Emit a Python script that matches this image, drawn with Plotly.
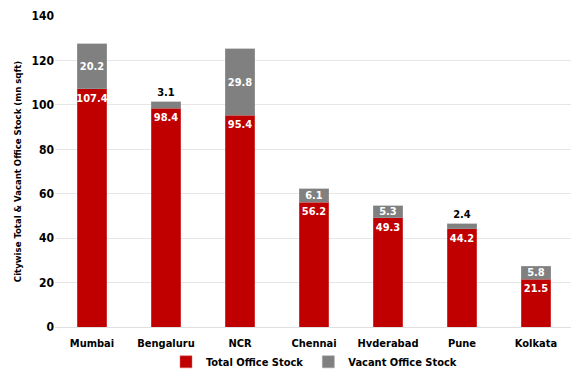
import plotly.graph_objects as go

cities = ["Mumbai", "Bengaluru", "NCR", "Chennai", "Hyderabad", "Pune", "Kolkata"]
total_stock = [107.4, 98.4, 95.4, 56.2, 49.3, 44.2, 21.5]
vacant_stock = [20.2, 3.1, 29.8, 6.1, 5.3, 2.4, 5.8]
y_ticks = [0, 20, 40, 60, 80, 100, 120, 140]

FONT = "DejaVu Sans Condensed, Liberation Sans Narrow, Arial Narrow, Liberation Sans, sans-serif"

vac_pos = ["outside" if v < 4 else "inside" for v in vacant_stock]
vac_col = ["#000000" if v < 4 else "#FFFFFF" for v in vacant_stock]

fig = go.Figure()
fig.add_trace(go.Bar(
    x=cities, y=total_stock, name="Total Office Stock",
    marker=dict(color="#C00000", line=dict(color="#E06060", width=0.5)),
    text=[f"{v:.1f}" for v in total_stock], textposition="inside",
    insidetextanchor="end", constraintext="none", textangle=0,
    textfont=dict(color="white", size=11, family=FONT, weight="bold"),
))
fig.add_trace(go.Bar(
    x=cities, y=vacant_stock, name="Vacant Office Stock",
    marker=dict(color="#808080", line=dict(color="#A0A0A0", width=0.5)),
    text=[f"{v:.1f}" for v in vacant_stock], textposition=vac_pos,
    insidetextanchor="middle", constraintext="none", cliponaxis=False, textangle=0,
    textfont=dict(color=vac_col, size=11, family=FONT, weight="bold"),
))

fig.update_layout(
    barmode="stack", bargap=0.6,
    width=579, height=378,
    margin=dict(l=47, r=14, t=8, b=59, autoexpand=False),
    paper_bgcolor="white", plot_bgcolor="white",
    font=dict(family=FONT, size=11, color="#000000", weight="bold"),
    showlegend=True,
    legend=dict(orientation="h", x=0.5, xanchor="center", y=-0.112, yanchor="middle",
                font=dict(size=11, family=FONT, weight="bold"), itemwidth=30,
                traceorder="normal"),
)
fig.update_yaxes(
    range=[0, 140.05], tickvals=y_ticks, showgrid=True, gridcolor="#E6E6E6",
    gridwidth=1, zeroline=False, showline=False, automargin=False,
    title=dict(text="Citywise Total & Vacant Office Stock (mn sqft)",
               font=dict(size=9.5, family=FONT, weight="bold"), standoff=8),
    tickfont=dict(size=12, family=FONT, weight="bold"),
)
fig.update_xaxes(
    showline=True, linecolor="#E0E0E0", ticks="outside", ticklen=6, automargin=False,
    tickcolor="rgba(0,0,0,0)",
    tickfont=dict(size=11, family=FONT, weight="bold"),
)

fig.write_html("out.html")
